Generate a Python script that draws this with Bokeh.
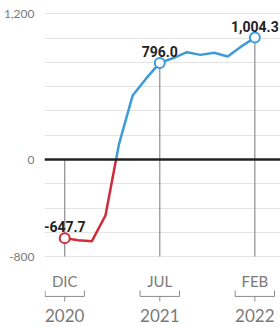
from bokeh.plotting import figure
from bokeh.models import Range1d, FixedTicker, NumeralTickFormatter, Span
from bokeh.core.properties import value
from bokeh.embed import file_html
from bokeh.resources import INLINE

# month index 0 = DIC 2020 ... 14 = FEB 2022
month_idx = list(range(15))
values = [-647.7, -665, -673, -461, 129, 527, 668, 796.0, 836, 884, 862, 879, 848, 931, 1004.3]

marked_idx = [0, 7, 14]
marked_months = ["DIC", "JUL", "FEB"]
marked_years = ["2020", "2021", "2022"]

y_labels = [-800, 0, 1200]
y_grid = list(range(-800, 1201, 200))

BLUE = "#3d9bd8"
RED = "#cf2b3a"
GRAY_TXT = "#7a7a7a"

p = figure(width=280, height=327, output_backend="svg", toolbar_location=None,
           x_range=Range1d(-1.49, 15.89), y_range=Range1d(-1384, 1310),
           x_axis_location=None, min_border_left=43, min_border_right=0,
           min_border_top=0, min_border_bottom=0)
p.outline_line_color = None
p.background_fill_color = "white"
p.border_fill_color = "white"

p.xgrid.visible = False
p.ygrid.ticker = FixedTicker(ticks=y_grid)
p.ygrid.grid_line_color = "#e4e4e4"
p.ygrid.grid_line_width = 1

p.yaxis.ticker = FixedTicker(ticks=y_labels)
p.yaxis.formatter = NumeralTickFormatter(format="0,0")
p.yaxis.axis_line_color = None
p.yaxis.major_tick_line_color = None
p.yaxis.minor_tick_line_color = None
p.yaxis.major_tick_out = 0
p.yaxis.major_tick_in = 0
p.yaxis.minor_tick_out = 0
p.yaxis.major_label_standoff = 10
p.yaxis.major_label_text_font = "Lato"
p.yaxis.major_label_text_font_size = "12px"
p.yaxis.major_label_text_color = GRAY_TXT

# zero line
p.add_layout(Span(location=0, dimension="width", line_color="#222222", line_width=2.5))

# vertical marker lines
ymin = y_grid[0]
vx = [month_idx[i] for i in marked_idx]
vtop = [max(values[i], 0) for i in marked_idx]
p.segment(x0=vx, y0=[ymin] * len(vx), x1=vx, y1=vtop, line_color="#8c8c8c", line_width=1.2)

# split line into negative (red) and positive (blue) part at zero crossing
neg_x, neg_y, pos_x, pos_y = [], [], [], []
for i in range(len(values)):
    x, v = month_idx[i], values[i]
    if i > 0:
        v0 = values[i - 1]
        if (v0 < 0) != (v < 0):
            x0 = month_idx[i - 1]
            xc = x0 + (x - x0) * (0 - v0) / (v - v0)
            neg_x.append(xc); neg_y.append(0)
            pos_x.append(xc); pos_y.append(0)
    if v < 0:
        neg_x.append(x); neg_y.append(v)
    else:
        pos_x.append(x); pos_y.append(v)

p.line(neg_x, neg_y, line_color=RED, line_width=2.5, line_join="round")
p.line(pos_x, pos_y, line_color=BLUE, line_width=2.5, line_join="round")

mv = [values[i] for i in marked_idx]
mcol = [RED if v < 0 else BLUE for v in mv]
p.scatter(vx, mv, size=10, fill_color="white", line_color=mcol, line_width=2)

p.text(vx, mv, text=["{:,.1f}".format(v) for v in mv], text_align="center",
       text_baseline="bottom", y_offset=-6, text_font=value("Roboto"),
       text_font_style="bold", text_font_size="14px", text_color="#222222")

# x labels with brackets
p.text(vx, [-1005] * 3, text=marked_months, text_align="center", text_baseline="middle",
       text_font=value("Lato"), text_font_size="15px", text_color=GRAY_TXT)
p.text(vx, [-1285] * 3, text=marked_years, text_align="center", text_baseline="middle",
       text_font=value("Lato"), text_font_size="17px", text_color=GRAY_TXT)
hw = 1.45
bxs = [[t - hw, t - hw, t + hw, t + hw] for t in vx] + [[t, t] for t in vx]
bys = [[-1079, -1128, -1128, -1079] for t in vx] + [[-1128, -1170] for t in vx]
p.multi_line(bxs, bys, line_color="#8c8c8c", line_width=1)

open("out.html", "w").write(file_html(p, INLINE))
